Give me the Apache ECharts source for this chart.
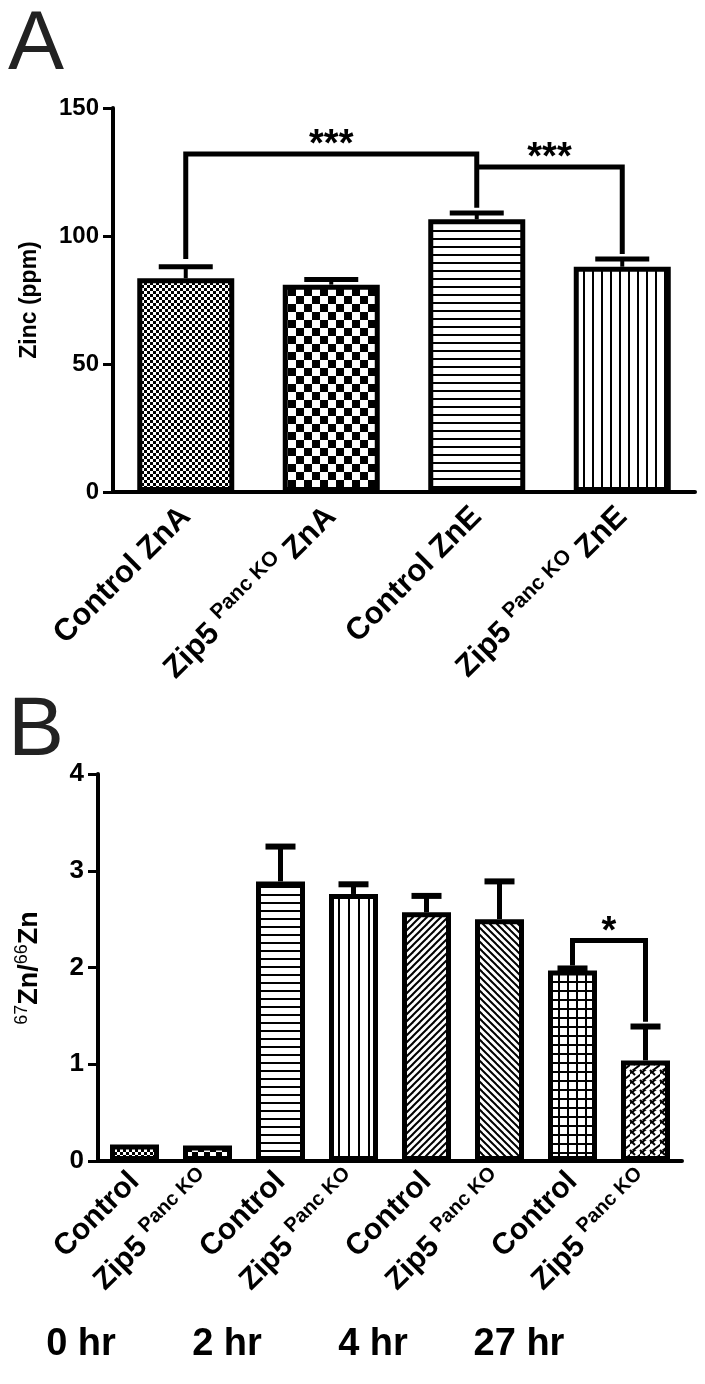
<!DOCTYPE html>
<html><head><meta charset="utf-8">
<script src="https://cdn.jsdelivr.net/npm/echarts@6/dist/echarts.min.js"></script>
<style>html,body{margin:0;padding:0;background:#fff}#c{width:705px;height:1384px}</style>
</head><body><div id="c"></div>
<script>
// ---------- data ----------
const catsA = ['Control ZnA', 'Zip5 Panc KO ZnA', 'Control ZnE', 'Zip5 Panc KO ZnE'];
const valsA = [83.5, 81, 106.5, 88];
const errA = [88, 83, 109, 91];
const sigA = [[0, 2, 132, 91, 111], [2, 3, 127, 127, 93]]; // from, to, level, leftEnd, rightEnd
const sigTextA = ['***', '***'];

const catsB = ['Control', 'Zip5 Panc KO', 'Control', 'Zip5 Panc KO', 'Control', 'Zip5 Panc KO', 'Control', 'Zip5 Panc KO'];
const valsB = [0.17, 0.16, 2.89, 2.76, 2.57, 2.50, 1.97, 1.04];
const errB = [0.17, 0.16, 3.25, 2.86, 2.74, 2.89, 1.99, 1.39];
const sigB = [[6, 7, 2.28, 2.02, 1.44]];
const sigTextB = ['*'];
const timeLabels = ['0 hr', '2 hr', '4 hr', '27 hr'];

// ---------- patterns ----------
function pat(w, h, draw) {
  const c = document.createElement('canvas'); c.width = w; c.height = h;
  const g = c.getContext('2d'); g.fillStyle = '#fff'; g.fillRect(0, 0, w, h);
  g.fillStyle = '#000'; g.strokeStyle = '#000'; draw(g, w, h); return c;
}
const checker = s => pat(2 * s, 2 * s, g => { g.fillRect(0, 0, s, s); g.fillRect(s, s, s, s); });
const hLines = (p, t) => pat(p, p, g => g.fillRect(0, p - t, p, t));
const vLines = (p, t) => pat(p, p, g => g.fillRect(p - t, 0, t, p));
const diag = (p, t, back) => pat(p, p, g => {
  g.lineWidth = t;
  for (let k = -1; k <= 2; k++) {
    g.beginPath();
    if (!back) { g.moveTo(-p, k * p + p); g.lineTo(k * p + p, -p); }
    else { g.moveTo(-p, -p + (k - 1) * p); g.lineTo(p * 2, p * 2 + (k - 1) * p); }
    g.stroke();
  }
});
const gridPat = (p, t) => pat(p, p, g => { g.fillRect(0, 0, p, t); g.fillRect(0, 0, t, p); });
const brick = T => pat(T, T, g => {
  g.lineWidth = 2;
  for (let k = -1; k <= 2; k++) { g.beginPath(); g.moveTo(-T, (k + 1) * T); g.lineTo((k + 1) * T + T, -T); g.stroke(); }
  for (let a = -1; a <= 1; a++) for (let b = -1; b <= 1; b++) {
    g.beginPath(); g.moveTo(a * T, b * T); g.lineTo(a * T + T / 2, b * T + T / 2); g.stroke();
  }
});
const P = img => ({ image: img, repeat: 'repeat' });
const patsA = [checker(3), checker(8), hLines(8, 2), vLines(9, 2)];
const patsB = [checker(3), checker(6), hLines(8, 2), vLines(10, 2), diag(7, 2, false), diag(7, 2, true), gridPat(9, 2), brick(10)];

// ---------- helpers ----------
const F = '"Liberation Sans", Arial, Helvetica, sans-serif';
function richLabel(v) {
  const parts = v.split('Panc KO');
  if (parts.length === 1) return '{b|' + v + '}';
  return '{b|' + parts[0] + '}{s|Panc KO}' + (parts[1] ? '{b|' + parts[1] + '}' : '');
}
function errRender(capW, lw) {
  return function (params, api) {
    const x = api.value(0), v = api.value(1), e = api.value(2);
    if (e <= v) return null;
    const p0 = api.coord([x, v]), p1 = api.coord([x, e]);
    return { type: 'group', children: [
      { type: 'line', shape: { x1: p0[0], y1: p0[1], x2: p1[0], y2: p1[1] }, style: { stroke: '#000', lineWidth: lw } },
      { type: 'line', shape: { x1: p1[0] - capW / 2, y1: p1[1], x2: p1[0] + capW / 2, y2: p1[1] }, style: { stroke: '#000', lineWidth: lw + 1 } }
    ] };
  };
}
function sigRender(texts, fs, lw) {
  return function (params, api) {
    const a = api.value(0), b = api.value(1), lvl = api.value(2), le = api.value(3), re = api.value(4);
    const pA = api.coord([a, le]), pAt = api.coord([a, lvl]), pBt = api.coord([b, lvl]), pB = api.coord([b, re]);
    return { type: 'group', children: [
      { type: 'polyline', shape: { points: [pA, pAt, pBt, pB] }, style: { stroke: '#000', lineWidth: lw, fill: null, lineJoin: 'miter' } },
      { type: 'text', x: (pAt[0] + pBt[0]) / 2, y: pAt[1] + fs * 0.28, style: { text: texts[params.dataIndex], font: 'bold ' + fs + 'px ' + F, fill: '#000', align: 'center', verticalAlign: 'bottom' } }
    ] };
  };
}
function xAxisCfg(idx, cats, fs, sfs, margin) {
  return {
    type: 'category', gridIndex: idx, data: cats,
    axisLine: { lineStyle: { color: '#000', width: 4 } },
    axisTick: { alignWithLabel: true, length: 12, lineStyle: { color: '#000', width: 3 } },
    axisLabel: {
      rotate: 45, margin: margin, interval: 0, formatter: richLabel,
      rich: {
        b: { fontFamily: F, fontWeight: 'bold', fontSize: fs, color: '#000', lineHeight: fs + 8 },
        s: { fontFamily: F, fontWeight: 'bold', fontSize: sfs, color: '#000', verticalAlign: 'top', lineHeight: fs + 8, padding: [0, 0, 14, 0] }
      }
    }
  };
}
function yAxisCfg(idx, max, interval, fs) {
  return {
    type: 'value', gridIndex: idx, min: 0, max: max, interval: interval,
    splitLine: { show: false },
    axisLine: { show: true, lineStyle: { color: '#000', width: 4 } },
    axisTick: { show: true, length: 10, lineStyle: { color: '#000', width: 3 } },
    axisLabel: { fontFamily: F, fontWeight: 'bold', fontSize: fs, color: '#000', margin: 14 }
  };
}

const chart = echarts.init(document.getElementById('c'), null, { renderer: 'canvas' });
const option = {
  animation: false,
  backgroundColor: '#fff',
  grid: [
    { left: 113, top: 108, width: 582, height: 384 },
    { left: 98, top: 774, width: 584, height: 387 }
  ],
  xAxis: [xAxisCfg(0, catsA, 31, 21, 20), xAxisCfg(1, catsB, 30, 20, 16)],
  yAxis: [yAxisCfg(0, 150, 50, 24), yAxisCfg(1, 4, 1, 26)],
  series: [
    { type: 'bar', xAxisIndex: 0, yAxisIndex: 0, barWidth: 97,
      itemStyle: { borderColor: '#000', borderWidth: 5 },
      data: valsA.map((v, i) => ({ value: v, itemStyle: { color: P(patsA[i]) } })) },
    { type: 'custom', xAxisIndex: 0, yAxisIndex: 0, renderItem: errRender(54, 4), clip: false,
      data: valsA.map((v, i) => [i, v, errA[i]]), z: 3 },
    { type: 'custom', xAxisIndex: 0, yAxisIndex: 0, renderItem: sigRender(sigTextA, 38, 5), clip: false,
      data: sigA, z: 4 },
    { type: 'bar', xAxisIndex: 1, yAxisIndex: 1, barWidth: 49,
      itemStyle: { borderColor: '#000', borderWidth: 5 },
      data: valsB.map((v, i) => ({ value: v, itemStyle: { color: P(patsB[i]) } })) },
    { type: 'custom', xAxisIndex: 1, yAxisIndex: 1, renderItem: errRender(30, 5), clip: false,
      data: valsB.map((v, i) => [i, v, errB[i]]), z: 3 },
    { type: 'custom', xAxisIndex: 1, yAxisIndex: 1, renderItem: sigRender(sigTextB, 38, 5), clip: false,
      data: sigB, z: 4 }
  ],
  graphic: [
    { type: 'text', left: 8, top: 4, style: { text: 'A', font: 'normal 84px ' + F, fill: '#222' } },
    { type: 'text', left: 8, top: 690, style: { text: 'B', font: 'normal 84px ' + F, fill: '#222' } },
    { type: 'text', x: 30, y: 300, rotation: Math.PI / 2,
      style: { text: 'Zinc (ppm)', font: 'bold 23px ' + F, fill: '#000', align: 'center', verticalAlign: 'middle' } },
    { type: 'text', x: 30, y: 968, rotation: Math.PI / 2,
      style: { text: '{s|67}{b|Zn/}{s|66}{b|Zn}', align: 'center', verticalAlign: 'middle',
        rich: { b: { font: 'bold 27px ' + F, fill: '#000', lineHeight: 34 },
                s: { font: 'normal 18px ' + F, fill: '#000', verticalAlign: 'top', lineHeight: 34, padding: [0, 0, 14, 0] } } } }
  ]
};
chart.setOption(option);
// time labels under each pair of categories in panel B
const extra = timeLabels.map((t, k) => {
  const p1 = chart.convertToPixel({ gridIndex: 1 }, [2 * k, 0]);
  const p2 = chart.convertToPixel({ gridIndex: 1 }, [2 * k + 1, 0]);
  return { type: 'text', x: (p1[0] + p2[0]) / 2 - 90, y: 1345,
    style: { text: t, font: 'bold 38px ' + F, fill: '#000', align: 'center', verticalAlign: 'middle' } };
});
chart.setOption({ graphic: option.graphic.concat(extra) });
</script></body></html>
